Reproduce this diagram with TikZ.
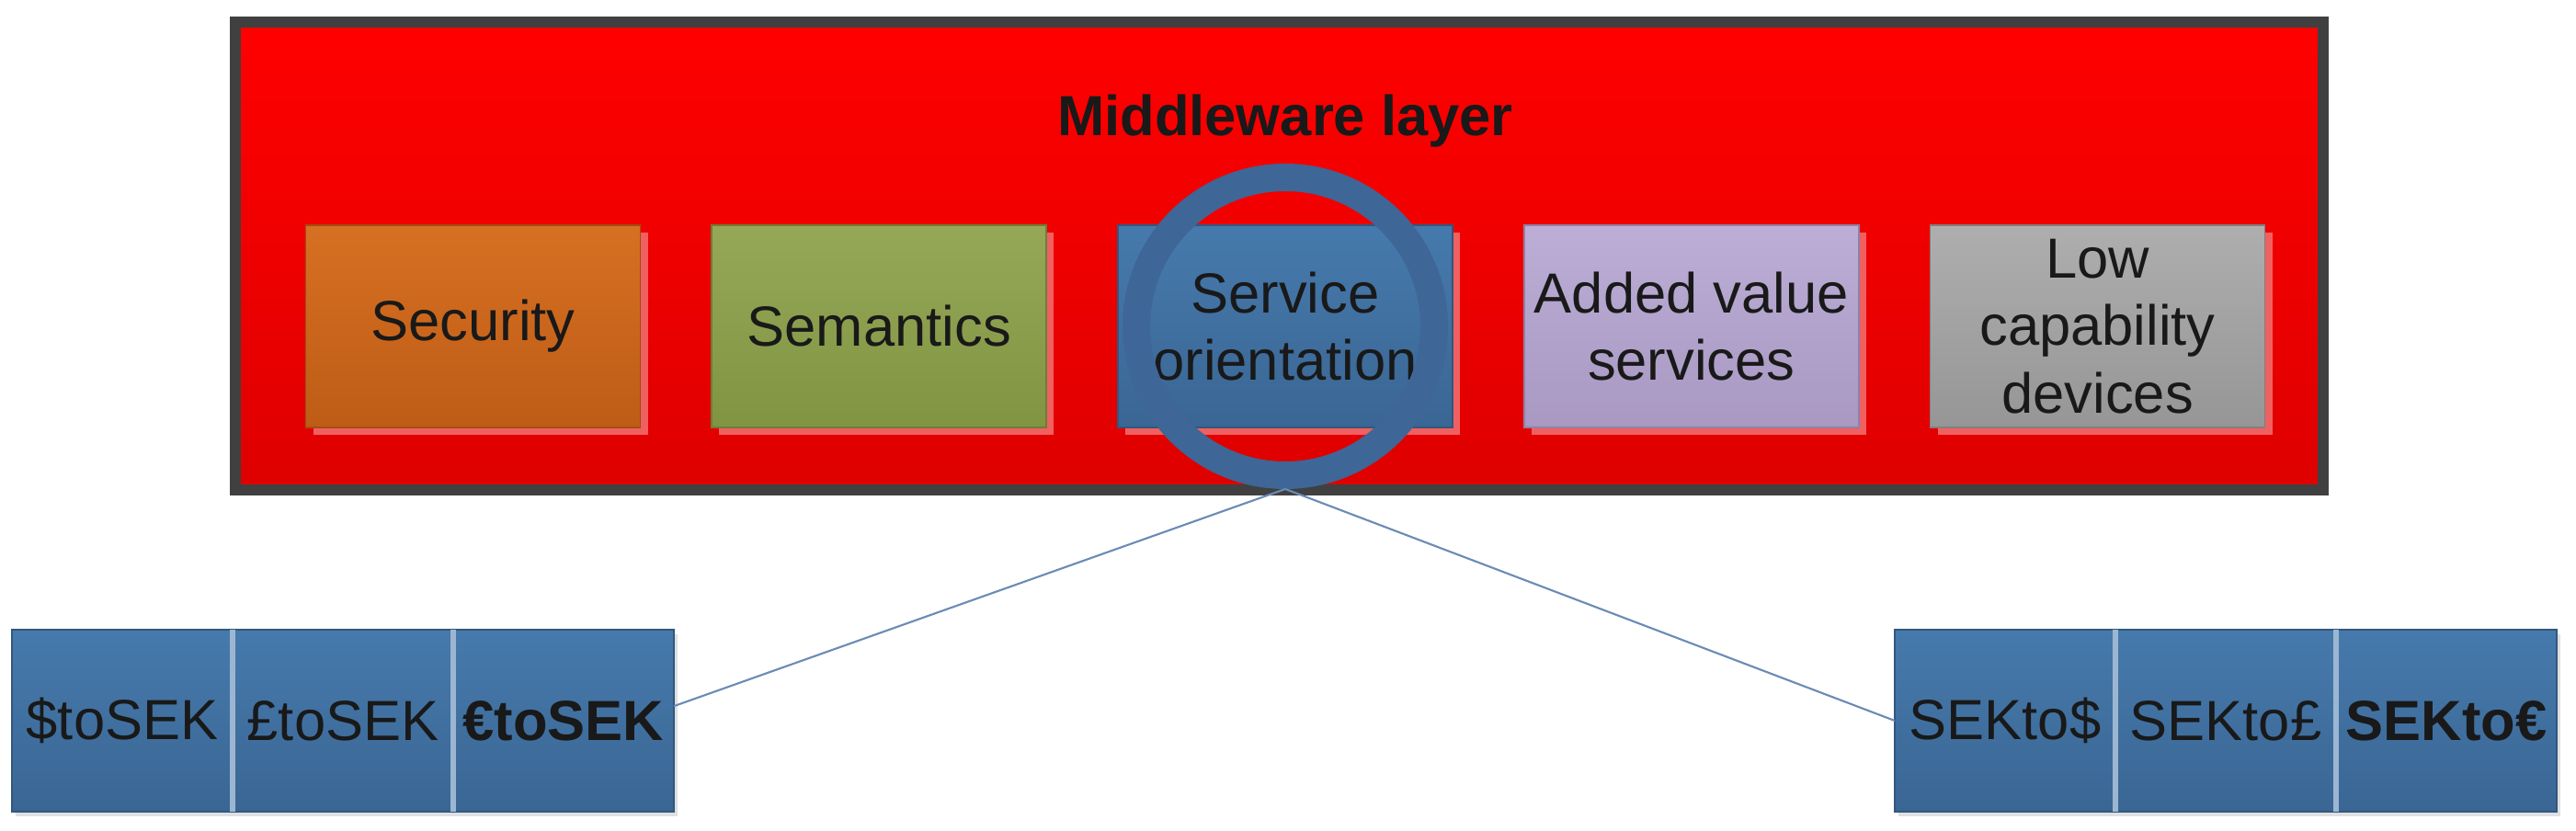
\documentclass[tikz,border=0pt]{standalone}
\usepackage{fontspec}
\setmainfont{Liberation Sans}
\usetikzlibrary{positioning, shadows, calc}

\definecolor{layertop}{RGB}{255,0,0}
\definecolor{layerbot}{RGB}{222,0,0}
\definecolor{frame}{RGB}{64,64,64}
\definecolor{boxshade}{RGB}{240,96,96}
\definecolor{secA}{RGB}{214,112,34}
\definecolor{secB}{RGB}{190,92,22}
\definecolor{semA}{RGB}{150,168,88}
\definecolor{semB}{RGB}{128,148,66}
\definecolor{svcA}{RGB}{70,122,172}
\definecolor{svcB}{RGB}{58,102,148}
\definecolor{addA}{RGB}{188,174,214}
\definecolor{addB}{RGB}{168,152,194}
\definecolor{lowA}{RGB}{174,174,174}
\definecolor{lowB}{RGB}{150,150,150}
\definecolor{ringblue}{RGB}{62,102,150}
\definecolor{celledge}{RGB}{156,182,210}
\definecolor{wire}{RGB}{105,140,182}

\tikzset{
  layerbox/.style={draw=frame, line width=0.12cm, top color=layertop, bottom color=layerbot,
    minimum width=22.71cm, minimum height=5.09cm,
    drop shadow={shadow xshift=0.05cm, shadow yshift=-0.06cm, fill=black!15, opacity=1}},
  module/.style={minimum width=3.64cm, minimum height=2.20cm, align=center, inner sep=2pt,
    draw=#1B!85!black, line width=0.5pt, top color=#1A, bottom color=#1B,
    drop shadow={shadow xshift=0.08cm, shadow yshift=-0.08cm, fill=boxshade, opacity=1}},
  cell/.style={minimum width=2.40cm, minimum height=1.98cm, outer sep=0pt, inner sep=1pt,
    draw=svcB!85!black, line width=0.5pt, top color=svcA, bottom color=svcB,
    drop shadow={shadow xshift=0.04cm, shadow yshift=-0.05cm, fill=black!12, opacity=1}},
  divider/.style={draw=celledge, line width=1.6pt},
  wireline/.style={draw=wire, line width=0.6pt}
}

\begin{document}
\begin{tikzpicture}[font=\fontsize{17.5}{21}\selectfont, text=black!90]
  \useasboundingbox (0,0) rectangle (28.02,9.03);
  \fill[white] (0,0) rectangle (28.02,9.03);

  % Middleware layer with its modules
  \node[layerbox] (layer) at (13.915,6.245) {};
  \node[anchor=base] (title) at (13.98,7.55) {\textbf{Middleware layer}};

  \node[module=sec] (sec) at (5.145,5.48) {Security};
  \node[module=sem, right=0.76cm of sec] (sem) {Semantics};
  \node[module=svc, right=0.76cm of sem] (svc) {Service\\orientation};
  \node[module=add, right=0.76cm of svc] (add) {Added value\\services};
  \node[module=low, right=0.76cm of add] (low) {Low\\capability\\devices};

  % highlight ring
  \node[circle, draw=ringblue, line width=0.30cm, minimum size=3.24cm, inner sep=0pt] (focus) at (svc.center) {};

  % conversion services
  \node[cell] (usd) at (1.33,1.19) {\$toSEK};
  \node[cell, right=0pt of usd] (gbp) {£toSEK};
  \node[cell, right=0pt of gbp] (eur) {\textbf{€toSEK}};

  \node[cell] (sekusd) at (21.81,1.19) {SEKto\$};
  \node[cell, right=0pt of sekusd] (sekgbp) {SEKto£};
  \node[cell, right=0pt of sekgbp] (sekeur) {\textbf{SEKto€}};

  \foreach \a in {usd, gbp, sekusd, sekgbp}
    \draw[divider] (\a.north east) -- (\a.south east);

  \draw[wireline] (focus.south) -- ($(eur.north east)!0.42!(eur.south east)$);
  \draw[wireline] (focus.south) -- (sekusd.west);
\end{tikzpicture}
\end{document}
